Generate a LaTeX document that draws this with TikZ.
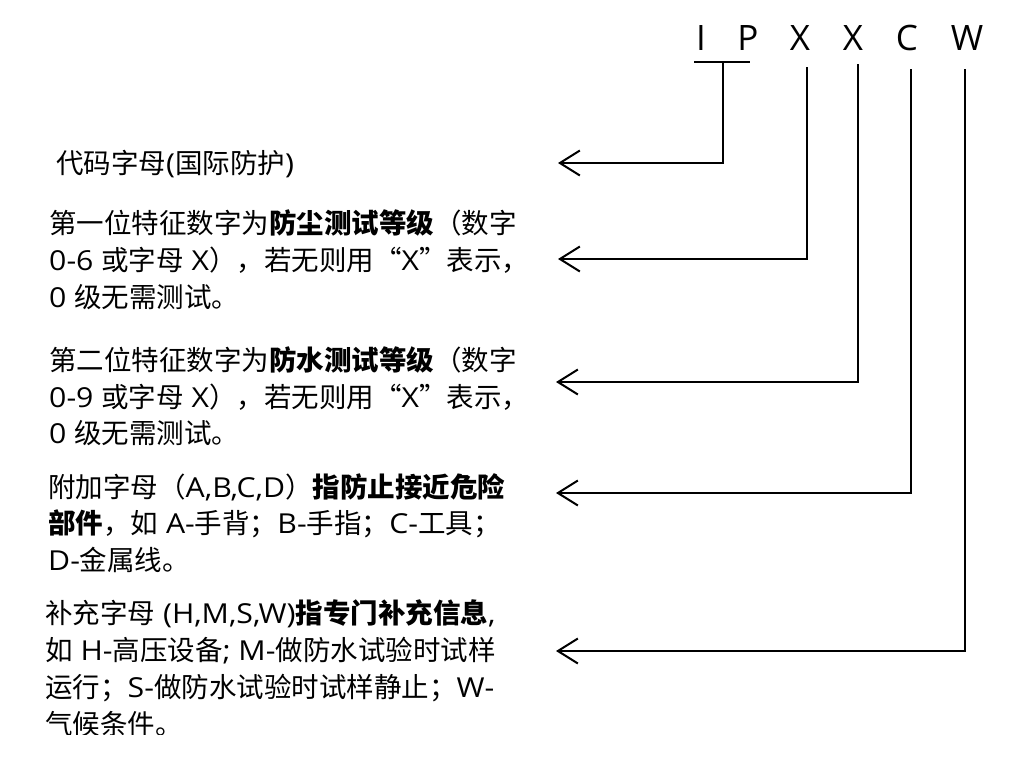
\documentclass[tikz,border=0pt]{standalone}
\usepackage{fontspec}
\setmainfont{Noto Sans CJK SC}
\newfontfamily\latfont[FakeStretch=1.1]{Open Sans}
\newfontfamily\capfont{Open Sans}
\newcommand{\ltn}[1]{{\latfont #1}}
\usetikzlibrary{arrows.meta}
\begin{document}
\begin{tikzpicture}[x=1pt,y=1pt,
  txt/.style={anchor=base west,inner sep=0pt,font=\fontsize{27.5}{37}\selectfont},
  letter/.style={anchor=base,inner sep=0pt,font=\fontsize{35}{40}\selectfont\capfont},
  conn/.style={line width=2pt,-{Straight Barb[length=20pt,width=25pt]}},
  rulebar/.style={line width=1.6pt}]
\useasboundingbox (0,0) rectangle (1028,-756);
% code letters
\node[letter] (lI)  at (701,-50) {I};
\node[letter] (lP)  at (748,-50) {P};
\node[letter] (lX1) at (800,-50) {X};
\node[letter] (lX2) at (853,-50) {X};
\node[letter] (lC)  at (907,-50) {C};
\node[letter] (lW)  at (967,-50) {W};
% connector anchors
\coordinate (ipL) at (694,-62);
\coordinate (ipR) at (750,-62);
\coordinate (ipbar) at (723,-62);
\coordinate (x1top) at (807,-67);
\coordinate (x2top) at (858,-64);
\coordinate (ctop) at (911,-69);
\coordinate (wtop) at (965,-69);
\coordinate (tip1) at (558,-163);
\coordinate (tip2) at (558,-259);
\coordinate (tip3) at (556,-382);
\coordinate (tip4) at (556,-493);
\coordinate (tip5) at (556,-651);
\draw[rulebar] (ipL) -- (ipR);
\draw[conn] (ipbar) |- (tip1);
\draw[conn] (x1top) |- (tip2);
\draw[conn] (x2top) |- (tip3);
\draw[conn] (ctop) |- (tip4);
\draw[conn] (wtop) |- (tip5);
% texts
\node[txt] (t1) at (56,-173) {代码字母\ltn{(}国际防护\ltn{)}};
\node[txt] (t2a) at (49,-233) {第一位特征数字为\textbf{防尘测试等级}（数字};
\node[txt] (t2b) at (49,-270) {\ltn{0-6 }或字母\ltn{ X}），若无则用“\ltn{X}”表示，};
\node[txt] (t2c) at (49,-307) {\ltn{0 }级无需测试。};
\node[txt] (t3a) at (49,-370) {第二位特征数字为\textbf{防水测试等级}（数字};
\node[txt] (t3b) at (49,-407) {\ltn{0-9 }或字母\ltn{ X}），若无则用“\ltn{X}”表示，};
\node[txt] (t3c) at (49,-443) {\ltn{0 }级无需测试。};
\node[txt] (t4a) at (48,-497) {附加字母（\ltn{A,B,C,D}）\textbf{指防止接近危险}};
\node[txt] (t4b) at (48,-533) {\textbf{部件}，如\ltn{ A-}手背；\ltn{B-}手指；\ltn{C-}工具；};
\node[txt] (t4c) at (48,-570) {\ltn{D-}金属线。};
\node[txt] (t5a) at (45,-623) {补充字母\ltn{ (H,M,S,W)}\textbf{指专门补充信息}\ltn{,}};
\node[txt] (t5b) at (45,-660) {如\ltn{ H-}高压设备\ltn{; M-}做防水试验时试样};
\node[txt] (t5c) at (45,-697) {运行；\ltn{S-}做防水试验时试样静止；\ltn{W-}};
\begin{scope}
\clip (0,-734) rectangle (1028,-700);
\node[txt] (t5d) at (45,-734) {气候条件。};
\end{scope}
\end{tikzpicture}
\end{document}
